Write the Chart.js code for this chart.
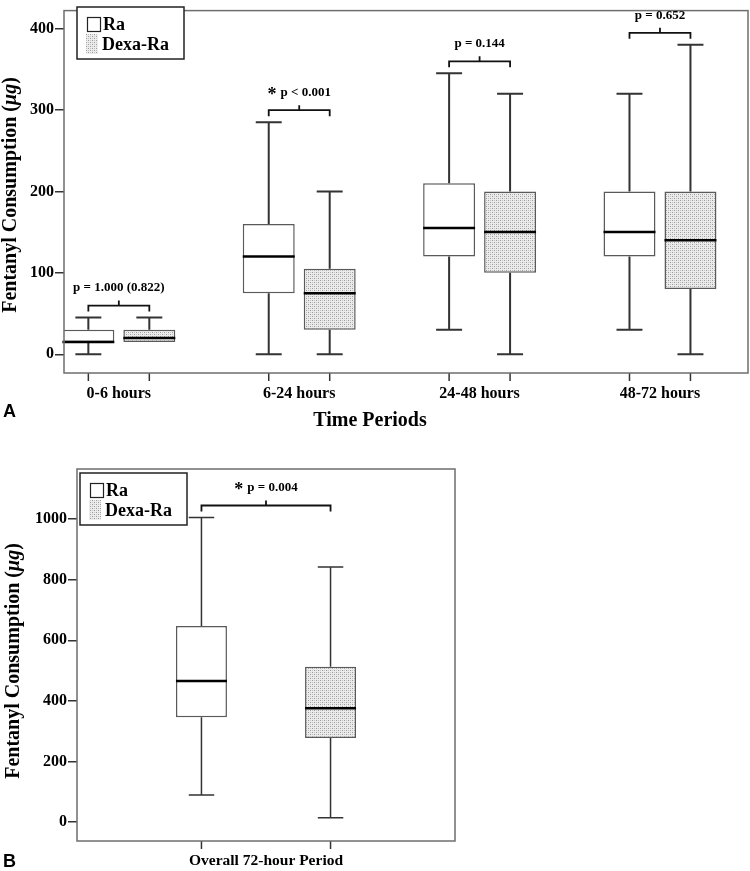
<!DOCTYPE html>
<html lang="en">
<head>
<meta charset="UTF-8">
<title>Fentanyl Consumption Box Plots</title>
<script src="https://cdn.jsdelivr.net/npm/chart.js"></script>
<style>
  body { margin: 0; background: #fff; }
  canvas { display: block; }
</style>
</head>
<body>
<canvas id="chartA" width="750" height="440"></canvas>
<canvas id="chartB" width="460" height="431"></canvas>
<script>
// Panel A - consumption per time period (min, q1, median, q3, max)
const periods = ['0-6 hours', '6-24 hours', '24-48 hours', '48-72 hours'];
const raMin = [0, 0, 30, 30];
const raQ1 = [15, 75, 120, 120];
const raMedian = [15, 120, 155, 150];
const raQ3 = [30, 160, 210, 200];
const raMax = [45, 285, 345, 320];
const dexaMin = [15, 0, 0, 0];
const dexaQ1 = [15, 30, 100, 80];
const dexaMedian = [20, 75, 150, 140];
const dexaQ3 = [30, 105, 200, 200];
const dexaMax = [45, 200, 320, 380];
const pValuesA = ['p = 1.000 (0.822)', 'p < 0.001', 'p = 0.144', 'p = 0.652'];
const significantA = [false, true, false, false];
const yTicksA = [0, 100, 200, 300, 400];

// Panel B - overall 72 hours
const overallLabels = ['Overall 72-hour Period'];
const raOverallMin = [90];
const raOverallQ1 = [346];
const raOverallMedian = [466];
const raOverallQ3 = [647];
const raOverallMax = [1005];
const dexaOverallMin = [15];
const dexaOverallQ1 = [278];
const dexaOverallMedian = [376];
const dexaOverallQ3 = [513];
const dexaOverallMax = [842];
const pValuesB = ['p = 0.004'];
const significantB = [true];
const yTicksB = [0, 200, 400, 600, 800, 1000];

const SERIF = '"Liberation Serif", "Times New Roman", serif';

// stipple fill for Dexa-Ra
function makeStipple() {
  const c = document.createElement('canvas');
  c.width = 4; c.height = 4;
  const g = c.getContext('2d');
  g.fillStyle = '#ececec';
  g.fillRect(0, 0, 4, 4);
  g.fillStyle = '#9a9a9a';
  g.fillRect(0, 0, 1, 1);
  g.fillRect(2, 2, 1, 1);
  g.fillStyle = '#c4c4c4';
  g.fillRect(2, 0, 1, 1);
  g.fillRect(0, 2, 1, 1);
  return g.createPattern(c, 'repeat');
}
const stipple = makeStipple();

function drawLegend(ctx, left, top) {
  ctx.save();
  ctx.fillStyle = '#fff';
  ctx.fillRect(left, top, 107, 52);
  ctx.strokeStyle = '#222';
  ctx.lineWidth = 1.5;
  ctx.strokeRect(left, top, 107, 52);
  ctx.lineWidth = 1.2;
  ctx.strokeRect(left + 10.5, top + 10.5, 13, 14);
  ctx.fillStyle = stipple;
  ctx.fillRect(left + 9, top + 27, 12, 20);
  ctx.fillStyle = '#000';
  ctx.font = 'bold 18px ' + SERIF;
  ctx.textBaseline = 'alphabetic';
  ctx.textAlign = 'left';
  ctx.fillText('Ra', left + 26, top + 23);
  ctx.fillText('Dexa-Ra', left + 25, top + 43);
  ctx.restore();
}

function drawYTitle(ctx, cx, cy) {
  const parts = [
    ['Fentanyl Consumption (', 'bold 20px ' + SERIF],
    ['\u03bcg', 'italic bold 20px ' + SERIF],
    [')', 'bold 20px ' + SERIF]
  ];
  ctx.save();
  ctx.translate(cx, cy);
  ctx.rotate(-Math.PI / 2);
  ctx.fillStyle = '#000';
  ctx.textBaseline = 'middle';
  ctx.textAlign = 'left';
  let total = 0;
  parts.forEach(p => { ctx.font = p[1]; total += ctx.measureText(p[0]).width; });
  let x = -total / 2;
  parts.forEach(p => {
    ctx.font = p[1];
    ctx.fillText(p[0], x, 0);
    x += ctx.measureText(p[0]).width;
  });
  ctx.restore();
}

function drawPText(ctx, cx, cy, text, star) {
  ctx.save();
  ctx.fillStyle = '#000';
  ctx.textAlign = 'left';
  ctx.font = 'bold 13px ' + SERIF;
  const w = ctx.measureText(text).width;
  let total = w, x;
  if (star) {
    ctx.font = 'bold 18px ' + SERIF;
    total += ctx.measureText('*').width + 4;
  }
  x = cx - total / 2;
  if (star) {
    ctx.textBaseline = 'alphabetic';
    ctx.fillText('*', x, cy + 7);
    x += ctx.measureText('*').width + 4;
  }
  ctx.font = 'bold 13px ' + SERIF;
  ctx.textBaseline = 'middle';
  ctx.fillText(text, x, cy);
  ctx.restore();
}

function boxOverlay(stats, pTexts, stars, whiskerWidth, extras) {
  return {
    id: 'boxOverlay',
    afterDatasetsDraw(chart) {
      const ctx = chart.ctx;
      const y = chart.scales.y;
      const area = chart.chartArea;
      ctx.save();
      // whiskers and medians
      stats.forEach((s, d) => {
        chart.getDatasetMeta(d).data.forEach((bar, i) => {
          const half = bar.width / 2;
          const cap = half * 0.5;
          ctx.strokeStyle = '#333';
          ctx.lineWidth = whiskerWidth;
          ctx.beginPath();
          ctx.moveTo(bar.x, y.getPixelForValue(s.q3[i]));
          ctx.lineTo(bar.x, y.getPixelForValue(s.max[i]));
          ctx.moveTo(bar.x - cap, y.getPixelForValue(s.max[i]));
          ctx.lineTo(bar.x + cap, y.getPixelForValue(s.max[i]));
          if (s.min[i] < s.q1[i]) {
            ctx.moveTo(bar.x, y.getPixelForValue(s.q1[i]));
            ctx.lineTo(bar.x, y.getPixelForValue(s.min[i]));
            ctx.moveTo(bar.x - cap, y.getPixelForValue(s.min[i]));
            ctx.lineTo(bar.x + cap, y.getPixelForValue(s.min[i]));
          }
          ctx.stroke();
          ctx.strokeStyle = '#000';
          ctx.lineWidth = 2.5;
          ctx.beginPath();
          ctx.moveTo(bar.x - half, y.getPixelForValue(s.median[i]));
          ctx.lineTo(bar.x + half, y.getPixelForValue(s.median[i]));
          ctx.stroke();
          // x tick mark under each box
          ctx.strokeStyle = '#333';
          ctx.lineWidth = 1.5;
          ctx.beginPath();
          ctx.moveTo(bar.x, area.bottom);
          ctx.lineTo(bar.x, area.bottom + 8);
          ctx.stroke();
        });
      });
      // frame
      ctx.strokeStyle = '#6e6e6e';
      ctx.lineWidth = 1.5;
      ctx.strokeRect(area.left, area.top, area.right - area.left, area.bottom - area.top);
      // brackets with p values
      const m0 = chart.getDatasetMeta(0).data;
      const m1 = chart.getDatasetMeta(1).data;
      pTexts.forEach((txt, i) => {
        const x1 = m0[i].x, x2 = m1[i].x;
        const top = Math.min(y.getPixelForValue(stats[0].max[i]), y.getPixelForValue(stats[1].max[i]));
        const by = top - 12;
        const mid = (x1 + x2) / 2;
        ctx.strokeStyle = '#111';
        ctx.lineWidth = 1.8;
        ctx.beginPath();
        ctx.moveTo(x1, by + 6);
        ctx.lineTo(x1, by);
        ctx.lineTo(x2, by);
        ctx.lineTo(x2, by + 6);
        ctx.moveTo(mid, by);
        ctx.lineTo(mid, by - 5);
        ctx.stroke();
        drawPText(ctx, mid, by - 17.5, txt, stars[i]);
      });
      ctx.restore();
      extras(ctx, area);
    }
  };
}

function boxDatasets(q1a, q3a, q1b, q3b, xs, cp, bp) {
  const common = { borderColor: '#5a5a5a', borderWidth: 1.5, borderSkipped: false,
    categoryPercentage: cp, barPercentage: bp };
  return [
    Object.assign({ label: 'Ra', backgroundColor: '#fff',
      data: xs.map((x, i) => ({ x: x, y: [q1a[i], q3a[i]] })) }, common),
    Object.assign({ label: 'Dexa-Ra', backgroundColor: stipple,
      data: xs.map((x, i) => ({ x: x, y: [q1b[i], q3b[i]] })) }, common)
  ];
}

const tickFont = { family: SERIF, size: 16, weight: 'bold' };

// Chart A
new Chart(document.getElementById('chartA'), {
  type: 'bar',
  data: {
    datasets: boxDatasets(raQ1, raQ3, dexaQ1, dexaQ3, periods.map((p, i) => i), 0.676, 0.852)
  },
  options: {
    responsive: false,
    animation: false,
    layout: { padding: { top: 2, right: 2, left: 0, bottom: 0 } },
    plugins: { legend: { display: false }, tooltip: { enabled: false } },
    scales: {
      x: {
        type: 'linear',
        min: -0.304,
        max: 3.488,
        offset: false,
        afterBuildTicks: s => { s.ticks = periods.map((p, i) => ({ value: i })); },
        afterFit: s => { s.height = 67; },
        grid: { display: false, drawTicks: false },
        border: { display: false },
        ticks: { callback: v => periods[v], font: tickFont, color: '#000', padding: 11, maxRotation: 0, autoSkip: false }
      },
      y: {
        min: -23,
        max: 422,
        afterBuildTicks: s => { s.ticks = yTicksA.map(v => ({ value: v })); },
        afterFit: s => { s.width = 64; },
        grid: { drawOnChartArea: false, tickLength: 9, color: '#333', lineWidth: 1.5 },
        border: { display: false },
        ticks: { callback: v => String(v), font: tickFont, color: '#000', padding: 1 }
      }
    }
  },
  plugins: [boxOverlay(
    [{ min: raMin, q1: raQ1, median: raMedian, q3: raQ3, max: raMax },
     { min: dexaMin, q1: dexaQ1, median: dexaMedian, q3: dexaQ3, max: dexaMax }],
    pValuesA, significantA, 2,
    (ctx, area) => {
      drawLegend(ctx, 77, 7);
      drawYTitle(ctx, 11, 195);
      ctx.save();
      ctx.fillStyle = '#000';
      ctx.textAlign = 'center';
      ctx.textBaseline = 'middle';
      ctx.font = 'bold 20px ' + SERIF;
      ctx.fillText('Time Periods', 370, 421);
      ctx.textAlign = 'left';
      ctx.font = 'bold 18px "Liberation Sans", Arial, sans-serif';
      ctx.fillText('A', 3, 412);
      ctx.restore();
    }
  )]
});

// Chart B
new Chart(document.getElementById('chartB'), {
  type: 'bar',
  data: {
    labels: overallLabels,
    datasets: boxDatasets(raOverallQ1, raOverallQ3, dexaOverallQ1, dexaOverallQ3, overallLabels, 0.683, 0.395)
  },
  options: {
    responsive: false,
    animation: false,
    layout: { padding: { top: 29, right: 5, left: 0, bottom: 0 } },
    plugins: { legend: { display: false }, tooltip: { enabled: false } },
    scales: {
      x: {
        afterFit: s => { s.height = 30; },
        grid: { display: false, drawTicks: false },
        border: { display: false },
        ticks: { font: { family: SERIF, size: 15.5, weight: 'bold' }, color: '#000', padding: 11, maxRotation: 0 }
      },
      y: {
        min: -62,
        max: 1165,
        afterBuildTicks: s => { s.ticks = yTicksB.map(v => ({ value: v })); },
        afterFit: s => { s.width = 77; },
        grid: { drawOnChartArea: false, tickLength: 9, color: '#333', lineWidth: 1.5 },
        border: { display: false },
        ticks: { callback: v => String(v), font: tickFont, color: '#000', padding: 1 }
      }
    }
  },
  plugins: [boxOverlay(
    [{ min: raOverallMin, q1: raOverallQ1, median: raOverallMedian, q3: raOverallQ3, max: raOverallMax },
     { min: dexaOverallMin, q1: dexaOverallQ1, median: dexaOverallMedian, q3: dexaOverallQ3, max: dexaOverallMax }],
    pValuesB, significantB, 1.5,
    (ctx, area) => {
      drawLegend(ctx, 80, 33);
      drawYTitle(ctx, 14, 221);
      ctx.save();
      ctx.fillStyle = '#000';
      ctx.textBaseline = 'middle';
      ctx.textAlign = 'left';
      ctx.font = 'bold 18px "Liberation Sans", Arial, sans-serif';
      ctx.fillText('B', 3, 422);
      ctx.restore();
    }
  )]
});
</script>
</body>
</html>
